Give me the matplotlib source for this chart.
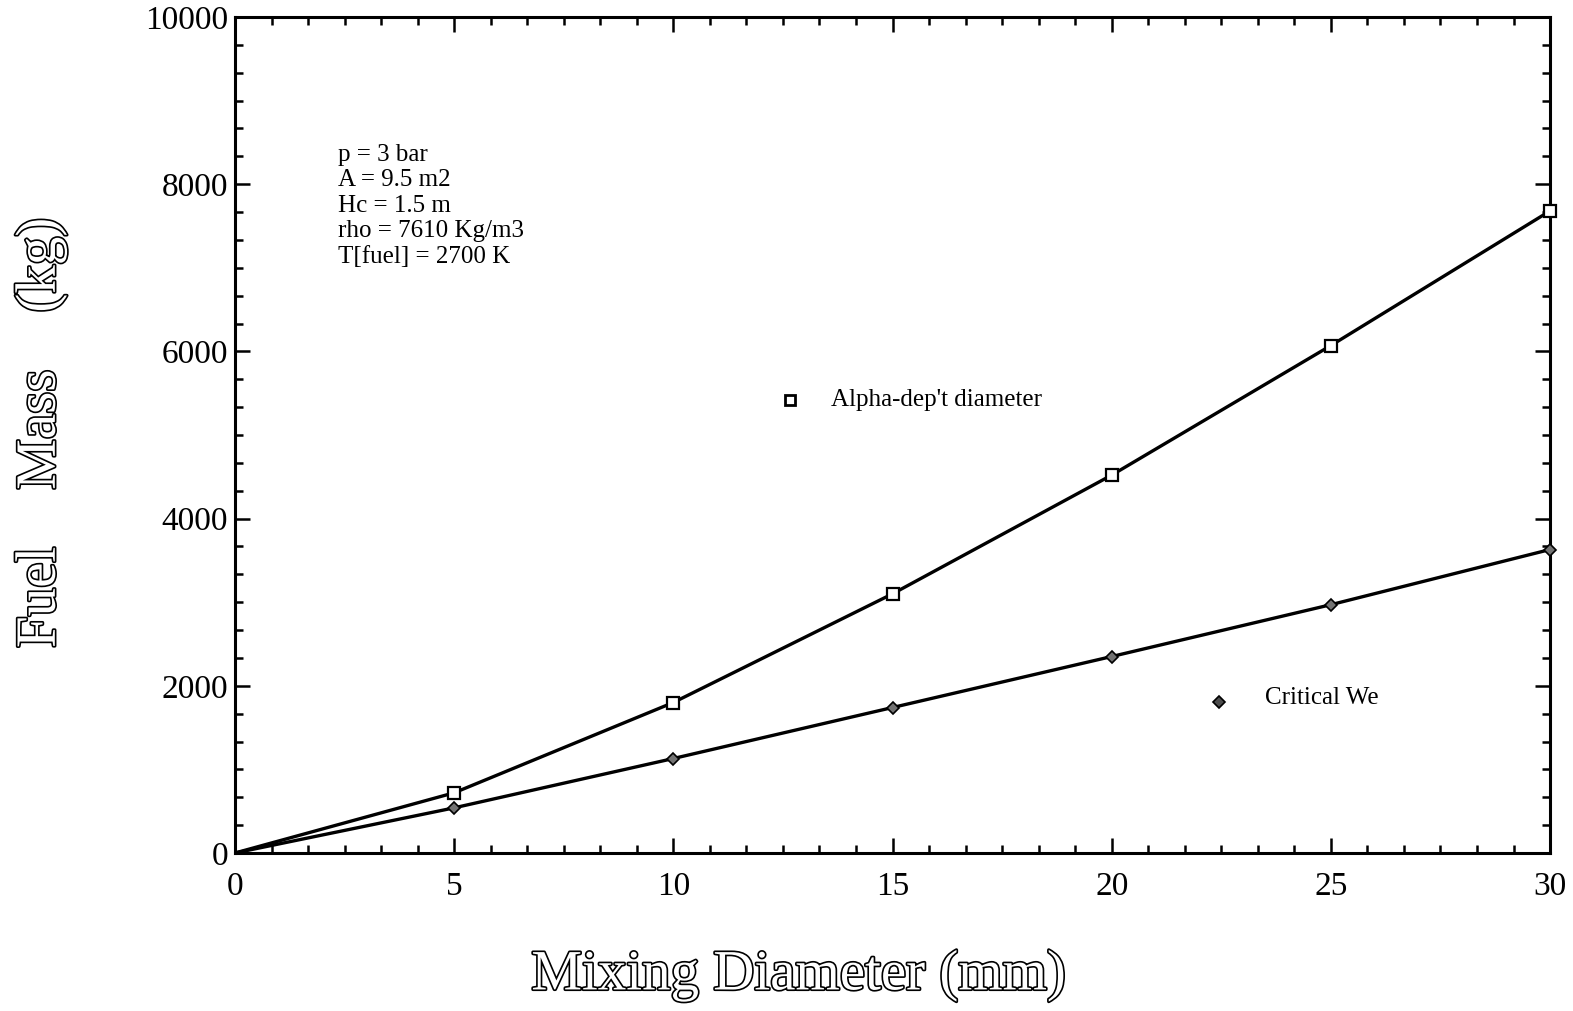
"""
Fuel mass against mixing diameter, two estimates
"""

import matplotlib

matplotlib.use("Agg")
import matplotlib.pyplot as plt
import matplotlib.patheffects as pe
from matplotlib.ticker import MultipleLocator

# data
diameter = [0, 5, 10, 15, 20, 25, 30]
alpha_mass = [0, 720, 1800, 3100, 4520, 6070, 7680]
critical_mass = [0, 540, 1130, 1740, 2350, 2970, 3630]

x_ticks = [0, 5, 10, 15, 20, 25, 30]
y_ticks = [0, 2000, 4000, 6000, 8000, 10000]

notes = [
    "p = 3 bar",
    "A = 9.5 m2",
    "Hc = 1.5 m",
    "rho = 7610 Kg/m3",
    "T[fuel] = 2700 K",
]

plt.rcParams["font.family"] = ["Liberation Serif", "DejaVu Serif"]

fig = plt.figure(figsize=(15.73, 10.11), dpi=100)
ax = fig.add_axes([0.1494, 0.1563, 0.836, 0.8269])

# curves, markers only at the computed points
ax.plot(diameter, alpha_mass, color="black", lw=2.4, zorder=2)
ax.plot(diameter[1:], alpha_mass[1:], ls="none", marker="s", ms=8,
        mfc="white", mec="black", mew=1.6, zorder=3, clip_on=False)
ax.plot(diameter, critical_mass, color="black", lw=2.4, zorder=2)
ax.plot(diameter[1:], critical_mass[1:], ls="none", marker="D", ms=6.5,
        mfc="0.45", mec="black", mew=1.2, zorder=3, clip_on=False)

ax.set_xlim(0, 30)
ax.set_ylim(0, 10000)
ax.set_xticks(x_ticks)
ax.set_yticks(y_ticks)
ax.xaxis.set_minor_locator(MultipleLocator(5 / 6))
ax.yaxis.set_minor_locator(MultipleLocator(2000 / 6))
ax.tick_params(which="both", direction="in", top=True, right=True,
               width=1.8, labelsize=24, colors="black")
ax.tick_params(which="major", length=11)
ax.tick_params(which="minor", length=6)
ax.tick_params(axis="x", which="major", pad=13)
ax.tick_params(axis="y", which="major", pad=5)
for s in ax.spines.values():
    s.set_linewidth(2.2)

# legend drawn as loose labels like the original
ax.plot([12.65], [5420], ls="none", marker="s", ms=7, mfc="white",
        mec="black", mew=2)
ax.text(13.6, 5420, "Alpha-dep't diameter", fontsize=18, va="center")
ax.plot([22.45], [1810], ls="none", marker="D", ms=6, mfc="0.3",
        mec="black", mew=1.2)
ax.text(23.5, 1850, "Critical We", fontsize=18, va="center")

ax.text(2.35, 8480, "\n".join(notes), fontsize=18, va="top",
        linespacing=1.2)

# hollow outline look for the axis titles
outline = [pe.withStroke(linewidth=2.4, foreground="black")]
fig.text(0.508, 0.035, "Mixing Diameter (mm)", fontsize=41, color="white",
         ha="center", va="center", path_effects=outline)
fig.text(0.026, 0.572, "Fuel    Mass    (kg)", fontsize=41, color="white",
         ha="center", va="center", rotation=90, path_effects=outline)

fig.savefig("out.png", dpi=100)
